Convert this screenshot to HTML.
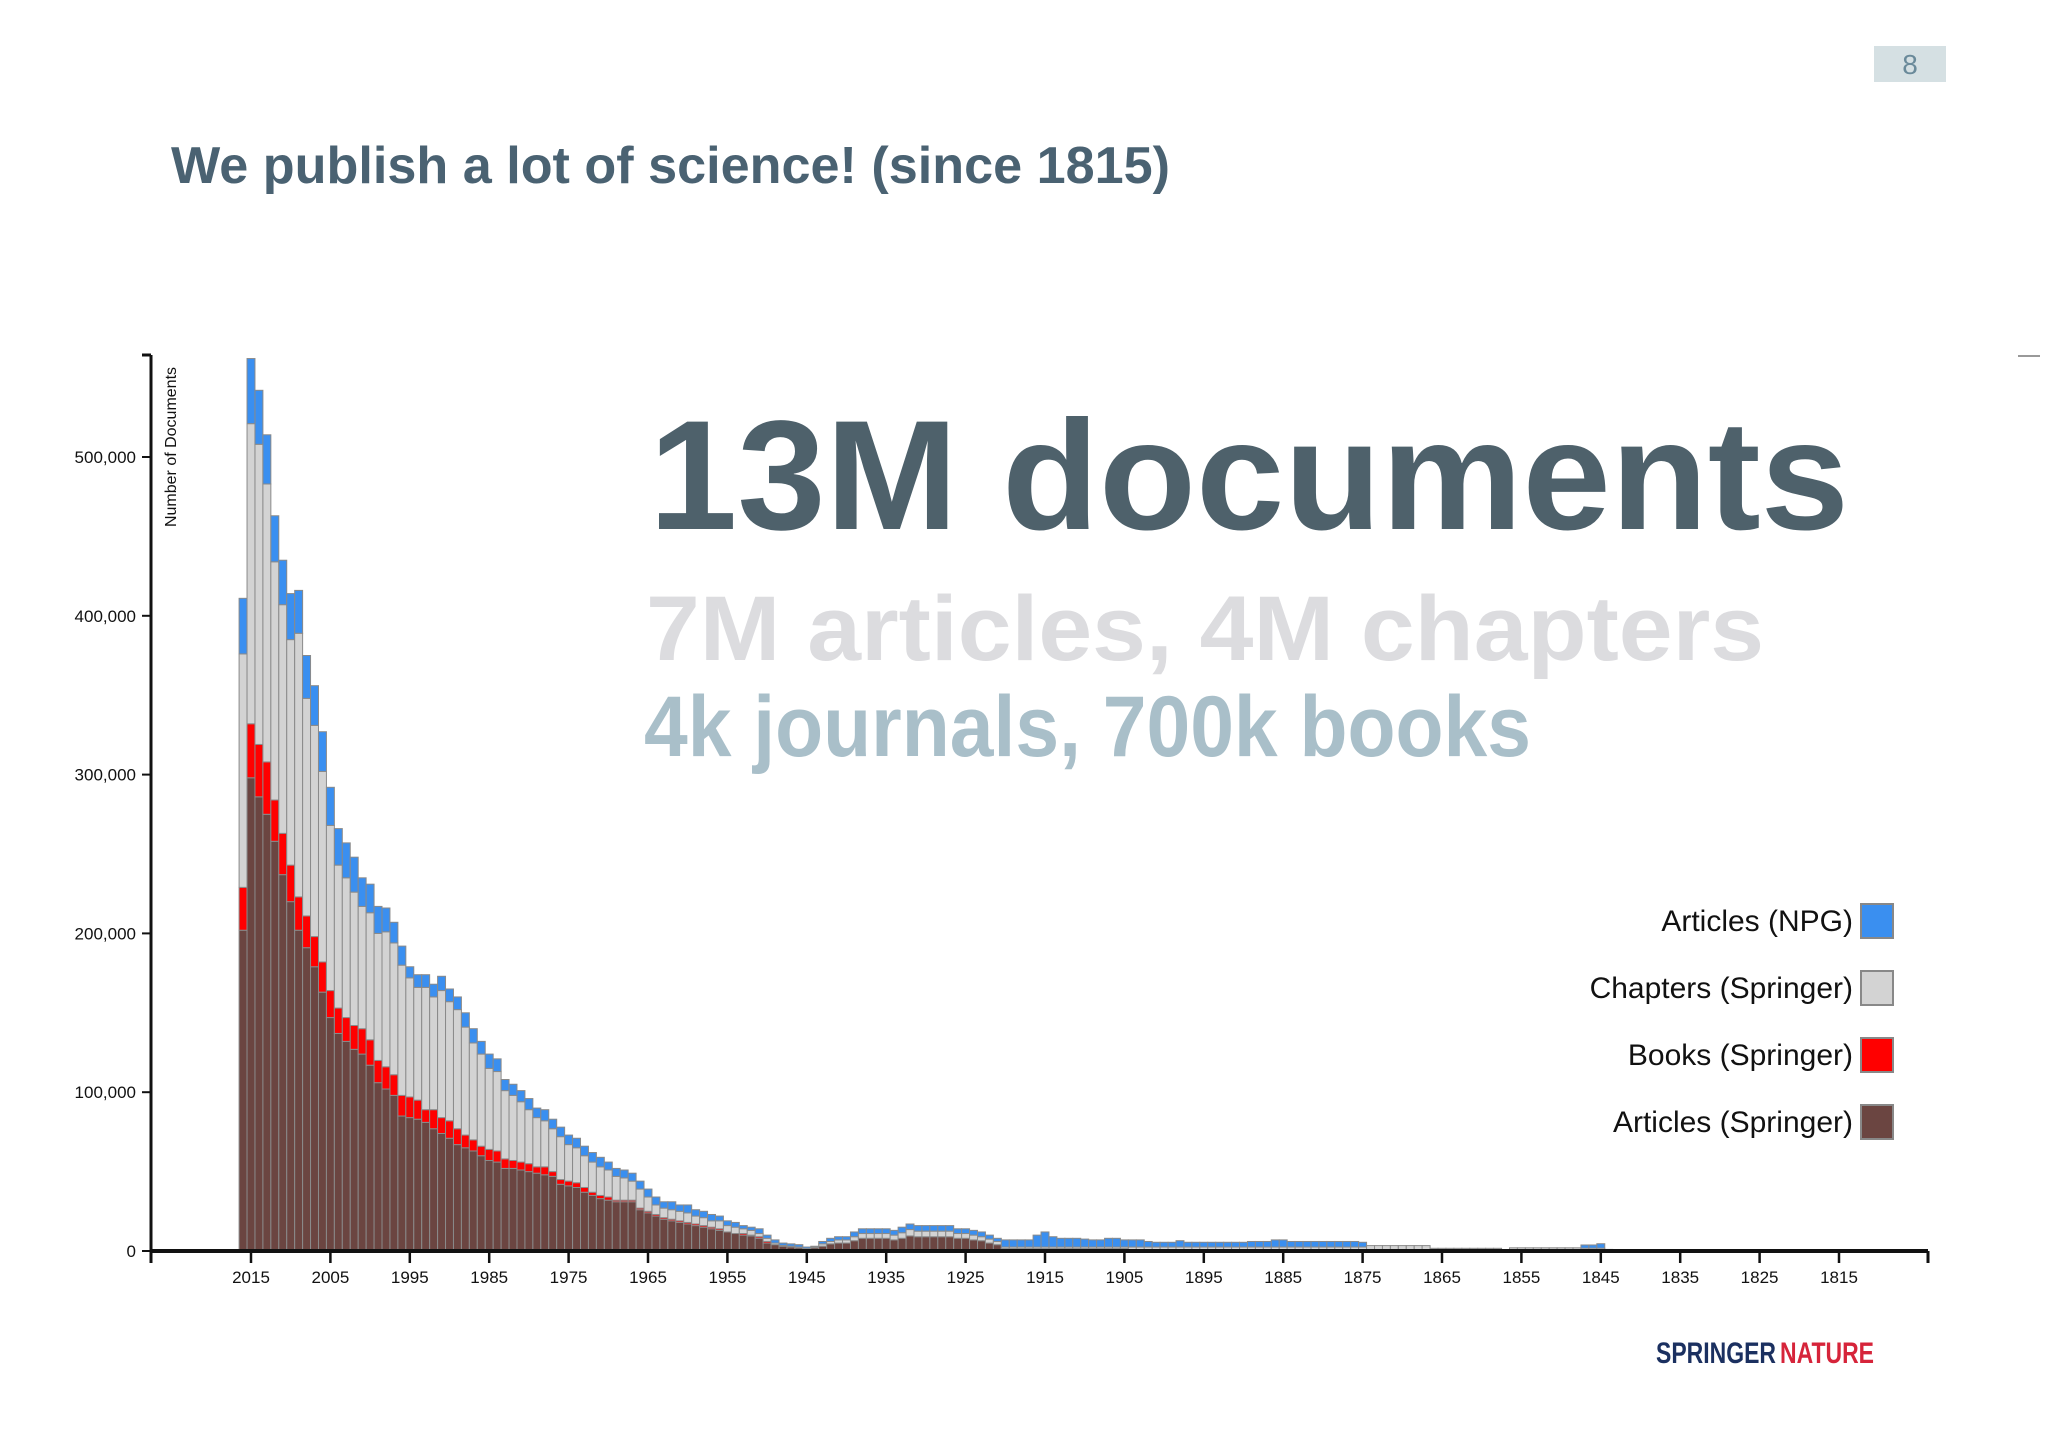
<!DOCTYPE html>
<html><head><meta charset="utf-8"><style>
html,body{margin:0;padding:0;background:#fff;}
svg{display:block;}
text{font-family:"Liberation Sans",sans-serif;}
</style></head><body>
<svg id="s" width="2048" height="1447" viewBox="0 0 2048 1447">
<rect x="0" y="0" width="2048" height="1447" fill="#fff"/>
<rect x="1874" y="46" width="72" height="36" fill="#d5e0e3"/>
<text x="1910" y="74" font-size="28" fill="#6a8a9a" text-anchor="middle">8</text>
<text x="171" y="183" font-size="52" font-weight="bold" fill="#4a6272" textLength="999" lengthAdjust="spacingAndGlyphs">We publish a lot of science! (since 1815)</text>
<line x1="2018" y1="356" x2="2040" y2="356" stroke="#999" stroke-width="2"/>
<g id="chart"></g>
<text x="649" y="529" font-size="156" font-weight="bold" fill="#4e616b" textLength="1200" lengthAdjust="spacingAndGlyphs">13M documents</text>
<text x="646" y="660" font-size="92" font-weight="bold" fill="#dcdcdf" textLength="1118" lengthAdjust="spacingAndGlyphs">7M articles, 4M chapters</text>
<text x="644" y="756" font-size="86" font-weight="bold" fill="#a9bfc9" textLength="887" lengthAdjust="spacingAndGlyphs">4k journals, 700k books</text>
<g id="legend"></g>
<text x="1656" y="1363" font-size="30" font-weight="bold" fill="#1b3060" textLength="120" lengthAdjust="spacingAndGlyphs">SPRINGER</text>
<text x="1780" y="1363" font-size="30" font-weight="bold" fill="#d6243a" textLength="94" lengthAdjust="spacingAndGlyphs">NATURE</text>
</svg>
<script>
// values in thousands of documents, years descending from 2016
const startYear = 2016;
const articlesSpringer = [202,298,286,275,258,237,220,202,191,179,163,147,137,132,127,124,117,106,102,98,85,84,83,81,77,74,71,67,65,63,60,57,56,52,52,51,50,49,48,47,42,41,40,37,35,33,32,31,31,31,26,24,22,20,19,18,17,16,15,14,13,12,11,10,9.5,8,5,4,3,2.5,2,1,
2,3,4.5,5,5,6.5,8,8,8,8,7,8,9.5,9,9,9,9,9,8,8,7,6.5,5,4,
1.5,1.5,1.5,1.5,1.5,1.5,1.5,1.5,1.5,1.5,1.5,1.5,1.5,1.5,1.5,1.5,
0.5,0.5,0.5,0.5,0.5,0.5,0.5,0.5,0.5,0.5,0.5,0.5,0.5,0.5,0.5,0.5,0.5,0.5,0.5,0.5,0.5,0.5,0.5,0.5,0.5,0.5,0.5,0.5,0.5,0.5,
0,0,0,0,0,0,0,0,0,0,0,0,0,0,0,0,0,0,0,0,0,0,0,0,0,0,0,0,0,0,0];
const booksSpringer = [27,34,33,33,26,26,23,21,20,19,19,17,16,15,15,16,16,14,14,13,13,13,12,8,12,10,11,10,8,7,6,7,7,6,5,5,5,4,5,3,3,3,3,3,2,2,2,1,1,1,1,1,1,1,1,1,1,1,1,1,1,0,0,1,0.5,1,1,0,0,0,0,0];
const chaptersSpringer = [147,189,189,175,150,144,142,166,137,133,120,104,90,88,84,77,80,80,85,83,82,75,71,77,71,80,75,75,68,61,58,51,50,43,41,38,34,31,29,27,27,23,22,20,19,18,17,15,14,12,12,9,6,6,6,6,6,5,5,4,5,4,4,3,3,2,2,1,0.5,0.5,0.5,0.5,
0.5,1.5,1.5,2,2,2.5,3,3,3,3,3,3.5,4,3.5,3.5,3.5,3.5,3.5,3,3,3,2.5,2.5,2,
1,1,1,1,1,1,1,1,1,1,1,1,1,1,1,1,
2,2,2,2,2,2,2,2,2,2,2,2,2,2,2,2,2,2,2,2,2,2,2,2,2,2,2,2,2,2,
3.4,3.4,3.4,3.4,3.4,3.4,3.4,3.4,1.7,1.7,1.7,1.7,1.7,1.7,1.7,1.7,1.7,0,2,2,2,2,2,2,2,2,2,1.8,1.8,1.8,1];
const articlesNPG = [35,41,34,31,29,28,29,27,27,25,25,24,23,22,22,18,18,17,15,13,12,7,8,8,8,9,8,8,9,9,8,9,8,7,7,7,7,6,7,6,6,6,6,6,6,6,5,5,5,5,5,5,5,4,5,4,5,4,4,4,3,3,3,2,2,3,2,2,1.5,1.5,1.5,1,
0.5,1.5,2,2,2,3,3,3,3,3,3,3.5,3.5,3.5,3.5,3.5,3.5,3.5,3,3,3,3,2.5,2,
4.5,4.5,4.5,4.5,7.5,9.5,6.5,5.5,5.5,5.5,5,4.5,4.5,5.5,5.5,4.5,
4.5,4.5,3.5,3,3,3,4,3,3,3,3,3,3,3,3,3.5,3.5,3.5,4.5,4.5,3.5,3.5,3.5,3.5,3.5,3.5,3.5,3.5,3.5,3,
0,0,0,0,0,0,0,0,0,0,0,0,0,0,0,0,0,0,0,0,0,0,0,0,0,0,0,2,2,2.8,0];
const yTicks = [0,100000,200000,300000,400000,500000];
const yTickLabels = ["0","100,000","200,000","300,000","400,000","500,000"];
const xTickYears = [2015,2005,1995,1985,1975,1965,1955,1945,1935,1925,1915,1905,1895,1885,1875,1865,1855,1845,1835,1825,1815];
const seriesNames = ["Articles (NPG)","Chapters (Springer)","Books (Springer)","Articles (Springer)"];

const NS="http://www.w3.org/2000/svg";
const chart=document.getElementById('chart');
const X0=151, X1=1928, Y0=1251, YT=355;
const yearStep=7.94;
const xScale=yr=>251+(2015-yr)*yearStep;
const yScale=v=>Y0-v*(158.8/100000);
function mk(tag,attrs,parent){const e=document.createElementNS(NS,tag);for(const k in attrs)e.setAttribute(k,attrs[k]);(parent||chart).appendChild(e);return e;}

const colors=["#6b4541","#ff0000","#d3d3d3","#3a8ff0"];
const names=["articles-springer","books-springer","chapters-springer","articles-npg"];
const series=[articlesSpringer,booksSpringer,chaptersSpringer,articlesNPG];
const n=articlesSpringer.length;
const barsG=mk('g',{});


for(let i=0;i<n;i++){
  const yr=startYear-i;
  let cum=0;
  for(let s=0;s<4;s++){
    const v=(series[s][i]||0)*1000;
    if(v<=0)continue;
    const yTop=yScale(cum+v), yBot=yScale(cum);
    const r=mk('rect',{x:(xScale(yr)-yearStep/2).toFixed(2),y:yTop.toFixed(2),width:yearStep.toFixed(2),height:Math.max(0.5,yBot-yTop).toFixed(2),fill:colors[s],stroke:"#8a8a8a","stroke-width":"1"},barsG);
    
    
    cum+=v;
  }
}
const ya=mk('line',{x1:X0,y1:YT,x2:X0,y2:Y0,stroke:"#111","stroke-width":3});


const yc=mk('line',{x1:X0-9,y1:YT,x2:X0,y2:YT,stroke:"#111","stroke-width":3});


yTicks.forEach((v,i)=>{
  const y=yScale(v);
  const t=mk('line',{x1:X0-9,y1:y,x2:X0,y2:y,stroke:"#111","stroke-width":2});
  
  
  const l=mk('text',{x:X0-15,y:y+6,"font-size":17,"text-anchor":"end",fill:"#111"});
  l.textContent=yTickLabels[i];
  
  
});
const xa=mk('line',{x1:X0,y1:Y0,x2:X1,y2:Y0,stroke:"#111","stroke-width":4});


[X0,X1].forEach(x=>{
  const t=mk('line',{x1:x,y1:Y0,x2:x,y2:Y0+12,stroke:"#111","stroke-width":3});
  
  
});
xTickYears.forEach(yr=>{
  const x=xScale(yr);
  const t=mk('line',{x1:x,y1:Y0,x2:x,y2:Y0+12,stroke:"#111","stroke-width":2.5});
  
  
  const l=mk('text',{x:x,y:1283,"font-size":17,"text-anchor":"middle",fill:"#111"});
  l.textContent=String(yr);
  
  
});
const yt=mk('text',{x:0,y:0,"font-size":16,"text-anchor":"middle",fill:"#111",transform:"translate(176,447) rotate(-90)"});
yt.textContent="Number of Documents";


const lg=document.getElementById('legend');
const legColors=["#3a8ff0","#d3d3d3","#ff0000","#6b4541"];
seriesNames.forEach((nm,i)=>{
  const cy=921+i*67;
  const r=mk('rect',{x:1861,y:cy-17,width:32,height:34,fill:legColors[i],stroke:"#888","stroke-width":2},lg);
  
  
  const t=mk('text',{x:1853,y:cy+10,"font-size":30,"text-anchor":"end",fill:"#111"},lg);
  t.textContent=nm;
  
  
});
</script>
</body></html>
